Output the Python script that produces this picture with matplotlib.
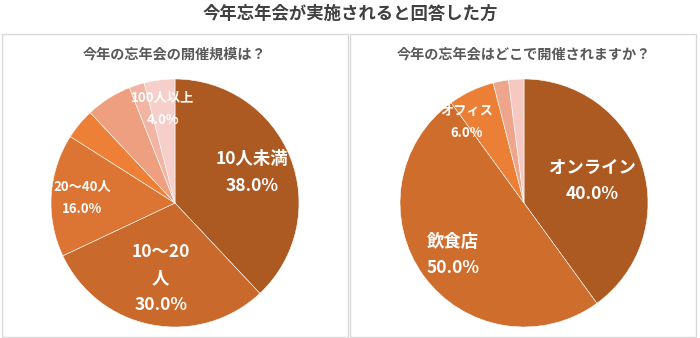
import matplotlib
matplotlib.use('agg')
import matplotlib.pyplot as plt
from matplotlib.patches import Rectangle
import numpy as np

plt.rcParams['font.family'] = ['Noto Sans CJK JP', 'DejaVu Sans']

# 開催規模
size_labels = ['10人未満', '10～20\n人', '20～40人', '', '', '', '100人以上']
size_values = [38.0, 30.0, 16.0, 4.0, 6.0, 2.0, 4.0]
size_colors = ['#AD5A22', '#C9692B', '#DC7533', '#ED8036', '#EE9F80', '#F2B5A3', '#F6CFCA']

# 開催場所
place_labels = ['オンライン', '飲食店', 'オフィス', '', '']
place_values = [40.0, 50.0, 6.0, 2.0, 2.0]
place_colors = ['#AD5A22', '#CF6D2D', '#EC7F36', '#EDA58C', '#F5C9C2']

W, H = 700, 338
fig = plt.figure(figsize=(W / 100, H / 100), dpi=100)
fig.patch.set_facecolor('white')

# panel frames
for x0 in (2, 350):
    fig.patches.append(Rectangle((x0 / W, 1 / H), 346 / W, 303 / H, transform=fig.transFigure,
                                 fill=False, edgecolor='#D9D9D9', linewidth=1.0))

fig.text(0.5, 1 - 14 / H, '今年忘年会が実施されると回答した方', ha='center', va='center',
         fontsize=12.5, fontweight='bold', color='#404040')


def draw_pie(cx, title, labels, values, colors, label_pos, big):
    r = 124
    ax = fig.add_axes([(cx - r) / W, (H - 203 - r) / H, 2 * r / W, 2 * r / H])
    wedges, _ = ax.pie(values, colors=colors, startangle=90, counterclock=False, radius=1.0,
                       wedgeprops=dict(edgecolor='white', linewidth=0.4))
    ax.set_xlim(-1, 1)
    ax.set_ylim(-1, 1)
    ax.set_aspect('equal')
    ax.axis('off')
    fig.text(cx / W, 1 - 55 / H, title, ha='center', va='center',
             fontsize=10.2, fontweight='bold', color='#595959')
    for w, lab, val, (dist, dang) in zip(wedges, labels, values, label_pos):
        if not lab:
            continue
        ang = np.deg2rad((w.theta1 + w.theta2) / 2 + dang)
        fs = 12.5 if lab in big else 9.5
        ax.text(dist * np.cos(ang), dist * np.sin(ang), f'{lab}\n{val:.1f}%', ha='center', va='center',
                color='white', fontsize=fs, fontweight='bold', linespacing=1.6 if fs > 10 else 1.8)


draw_pie(175, '今年の忘年会の開催規模は？', size_labels, size_values, size_colors,
         [(0.67, 0), (0.62, 0), (0.75, 0), (0, 0), (0, 0), (0, 0), (0.77, 0)],
         ['10人未満', '10～20\n人'])
draw_pie(524, '今年の忘年会はどこで開催されますか？', place_labels, place_values, place_colors,
         [(0.58, 0), (0.71, 0), (0.80, 10), (0, 0), (0, 0)],
         ['オンライン', '飲食店'])

fig.savefig('out.png', dpi=100)
